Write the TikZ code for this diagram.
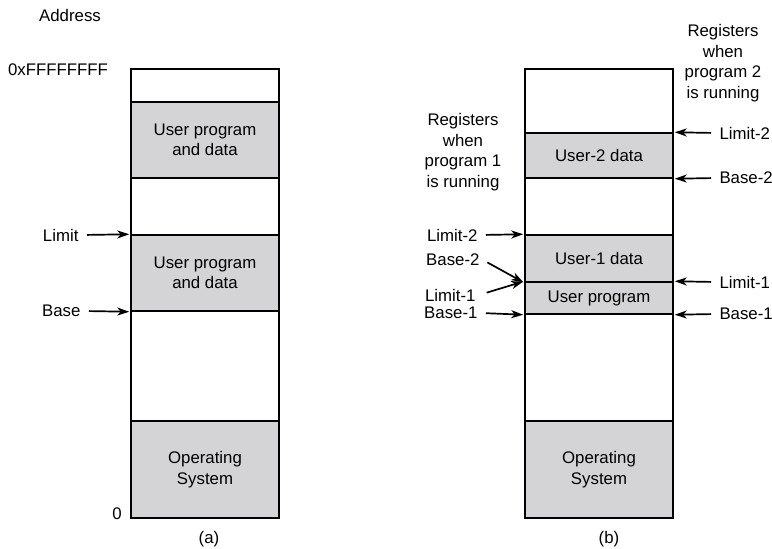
\documentclass[tikz,border=0pt]{standalone}
\usepackage{fontspec}
\setmainfont{Liberation Sans}
\usetikzlibrary{arrows.meta}
\definecolor{memgray}{RGB}{212,212,214}
\begin{document}
\begin{tikzpicture}[x=1pt, y=-1pt,
     every node/.style={font=\fontsize{16.8}{20.5}\selectfont},
     seg/.style={draw, line width=1.5pt, minimum width=148pt, inner sep=0pt, align=center},
     used/.style={seg, fill=memgray},
     reg/.style={-{Stealth[length=12pt, width=8pt, inset=3.5pt]}, line width=1.7pt, shorten >=1pt, shorten <=5pt}]
     \useasboundingbox (0, 0) rectangle (772, 549);
         \node[seg, minimum height=33pt] (a1) at (205, 85.5){};
         \node[used, minimum height=76pt] (a2) at (205, 140){User program\\and data};
         \node[seg, minimum height=57pt] (a3) at (205, 206.5){};
         \node[used, minimum height=76pt] (a4) at (205, 273){User program\\and data};
         \node[seg, minimum height=110pt] (a5) at (205, 366){};
         \node[used, minimum height=97pt] (a6) at (205, 469.5){Operating\\System};
             \node (addr) at (70, 15){Address};
             \node (top) at (58, 70){0xFFFFFFFF};
             \node (zero) at (117, 514){0};
             \node (capa) at (209, 539){(a)};
             \node[anchor=east] (lim) at (82, 235){Limit};
             \node[anchor=east] (base) at (84, 311){Base};
             \draw[reg] (lim.east) to (a4.north west);
             \draw[reg] (base.east) to (a4.south west);
         \node[seg, minimum height=64pt] (b1) at (599, 101){};
         \node[used, minimum height=45pt] (b2) at (599, 155.5){User-2 data};
         \node[seg, minimum height=57pt] (b3) at (599, 206.5){};
         \node[used, minimum height=47pt] (b4) at (599, 258.5){User-1 data};
         \node[used, minimum height=32pt] (b5) at (599, 298){User program};
         \node[seg, minimum height=107pt] (b6) at (599, 367.5){};
         \node[used, minimum height=97pt] (b7) at (599, 469.5){Operating\\System};
             \node (capb) at (609, 539){(b)};
             \node[align=center] (regone) at (463, 152){Registers\\when\\program 1\\is running};
             \node[align=center] (regtwo) at (723, 63){Registers\\when\\program 2\\is running};
             \node[anchor=east] (limtwoL) at (481, 235){Limit-2};
             \node[anchor=east] (basetwoL) at (483, 260){Base-2};
             \node[anchor=east] (limoneL) at (479, 295){Limit-1};
             \node[anchor=east] (baseoneL) at (481, 313){Base-1};
             \draw[reg] (limtwoL.east) to (b4.north west);
             \draw[reg] (basetwoL.east) to (b4.south west);
             \draw[reg, shorten <=8pt] (limoneL.east) to (b5.north west);
             \draw[reg] (baseoneL.east) to (b5.south west);
             \node[anchor=west] (limtwoR) at (716, 133){Limit-2};
             \node[anchor=west] (basetwoR) at (716, 178){Base-2};
             \node[anchor=west] (limoneR) at (716, 282){Limit-1};
             \node[anchor=west] (baseoneR) at (716, 314){Base-1};
             \draw[reg] (limtwoR.west) to (b2.north east);
             \draw[reg] (basetwoR.west) to (b2.south east);
             \draw[reg] (limoneR.west) to (b5.north east);
             \draw[reg] (baseoneR.west) to (b5.south east);
\end{tikzpicture}
\end{document}
